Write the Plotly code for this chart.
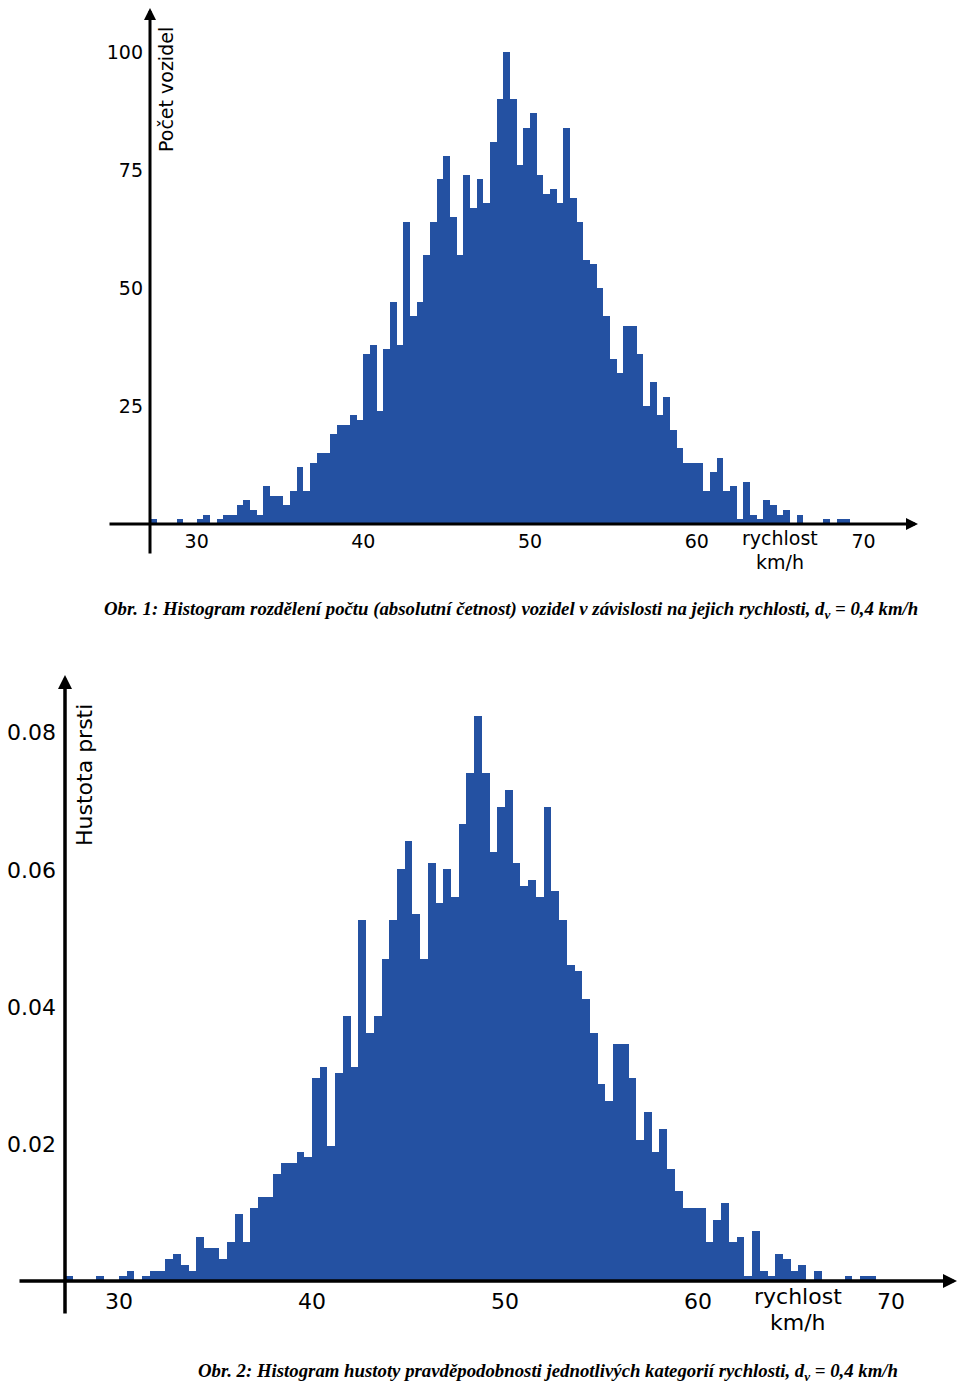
import plotly.graph_objects as go

# ---- data ----
bin_start = 27.2      # km/h, left edge of the first class
bin_width = 0.4       # km/h, class width d_v
counts = [
    1, 0, 0, 0, 1, 0, 0, 1, 2, 0,
    1, 2, 2, 4, 5, 3, 2, 8, 6, 6,
    4, 7, 12, 7, 13, 15, 15, 19, 21, 21,
    23, 22, 36, 38, 24, 37, 47, 38, 64, 44,
    47, 57, 64, 73, 78, 65, 57, 74, 67, 73,
    68, 81, 90, 100, 90, 76, 84, 87, 74, 70,
    71, 68, 84, 69, 64, 56, 55, 50, 44, 35,
    32, 42, 42, 36, 25, 30, 23, 27, 20, 16,
    13, 13, 13, 7, 11, 14, 7, 8, 1, 9,
    2, 1, 5, 4, 2, 3, 0, 2, 0, 0,
    0, 1, 0, 1, 1,
]
x_ticks = [30, 40, 50, 60, 70]
y1_ticks = [25, 50, 75, 100]
y2_ticks = [0.02, 0.04, 0.06, 0.08]
y2_ticktext = ["0.02", "0.04", "0.06", "0.08"]

speeds = [bin_start + bin_width * (i + 0.5) for i in range(len(counts))]
total = sum(counts)
density = [c / (total * bin_width) for c in counts]

# ---- layout helpers ----
W, H = 960, 1386
def px(x):
    return x / W
def py(y):
    return 1 - y / H

BLUE = "#2451A2"
SANS = "DejaVu Sans"
SERIF = "Liberation Serif"

fig = go.Figure()
fig.add_trace(go.Bar(x=speeds, y=counts, width=bin_width,
                     marker=dict(color=BLUE, line=dict(width=0)),
                     xaxis="x", yaxis="y", hoverinfo="x+y"))
fig.add_trace(go.Bar(x=speeds, y=density, width=bin_width,
                     marker=dict(color=BLUE, line=dict(width=0)),
                     xaxis="x2", yaxis="y2", hoverinfo="x+y"))

# top chart: 16.67 px per km/h, 4.72 px per vehicle
top_x0, top_x1, top_base, top_top = 150, 918, 524, 8
top_pxkm = 16.67
top_pxcnt = 4.72
# bottom chart
bot_x0, bot_x1, bot_base, bot_top = 65, 957, 1282, 675
bot_pxkm = 19.3
bot_pxden = 6867

axis_common = dict(showgrid=False, zeroline=False, showline=False, ticks="",
                   fixedrange=True)

fig.update_layout(
    width=W, height=H, autosize=False,
    margin=dict(l=0, r=0, t=0, b=0),
    paper_bgcolor="white", plot_bgcolor="white",
    showlegend=False, bargap=0,
    xaxis=dict(domain=[px(top_x0), px(top_x1)],
               range=[bin_start, bin_start + (top_x1 - top_x0) / top_pxkm],
               anchor="y", tickvals=x_ticks,
               tickfont=dict(family=SANS, size=19, color="black"),
               ticklabelstandoff=4, **axis_common),
    yaxis=dict(domain=[py(top_base), py(top_top)],
               range=[0, (top_base - top_top) / top_pxcnt],
               anchor="x", tickvals=y1_ticks,
               tickfont=dict(family=SANS, size=19, color="black"),
               ticklabelstandoff=6, **axis_common),
    xaxis2=dict(domain=[px(bot_x0), px(bot_x1)],
                range=[bin_start, bin_start + (bot_x1 - bot_x0) / bot_pxkm],
                anchor="y2", tickvals=x_ticks,
                tickfont=dict(family=SANS, size=22, color="black"),
                ticklabelstandoff=4, **axis_common),
    yaxis2=dict(domain=[py(bot_base), py(bot_top)],
                range=[0, (bot_base - bot_top) / bot_pxden],
                anchor="x2", tickvals=y2_ticks, ticktext=y2_ticktext,
                tickfont=dict(family=SANS, size=22, color="black"),
                ticklabelstandoff=8, **axis_common),
)

ann = []
def arrow(tx, ty, sx, sy, w):
    ann.append(dict(x=px(tx), y=py(ty), xref="paper", yref="paper",
                    ax=sx - tx, ay=sy - ty, axref="pixel", ayref="pixel",
                    text="", showarrow=True, arrowhead=2, arrowsize=0.8,
                    arrowwidth=w, arrowcolor="black"))

# axes drawn as arrows
arrow(150, 8, 150, 555, 3)
arrow(918, 524, 108, 524, 3)
arrow(65, 675, 65, 1315, 3.5)
arrow(957, 1281, 18, 1281, 3.5)

def text(x, y, s, size, family=SANS, angle=0, italic=False, bold=False):
    ann.append(dict(x=px(x), y=py(y), xref="paper", yref="paper", text=s,
                    showarrow=False, textangle=angle, xanchor="center",
                    yanchor="middle",
                    font=dict(family=family, size=size, color="black",
                              style="italic" if italic else "normal",
                              weight="bold" if bold else "normal")))

text(166, 90, "Počet vozidel", 19, angle=-90)
text(780, 538, "rychlost", 19)
text(780, 562, "km/h", 19)
text(84, 775, "Hustota prsti", 22, angle=-90)
text(798, 1296, "rychlost", 22)
text(798, 1322, "km/h", 22)

text(511, 610,
     "Obr. 1: Histogram rozdělení počtu (absolutní četnost) vozidel v závislosti "
     "na jejich rychlosti, d<sub>v</sub> = 0,4 km/h",
     18.8, family=SERIF, italic=True, bold=True)
text(548, 1372,
     "Obr. 2: Histogram hustoty pravděpodobnosti jednotlivých kategorií "
     "rychlosti, d<sub>v</sub> = 0,4 km/h",
     18.8, family=SERIF, italic=True, bold=True)

fig.update_layout(annotations=ann)
fig.write_html("out.html",
               config={"displayModeBar": False, "staticPlot": True},
               post_script="document.body.style.margin='0';"
                           "document.body.style.padding='0';"
                           "document.body.style.overflow='hidden';")
